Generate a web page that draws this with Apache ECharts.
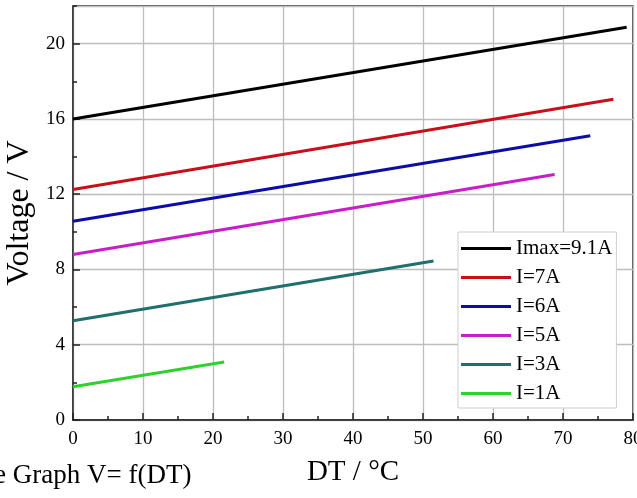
<!DOCTYPE html>
<html>
<head>
<meta charset="utf-8">
<script src="https://cdn.jsdelivr.net/npm/echarts@6/dist/echarts.min.js"></script>
<style>
  html, body { margin: 0; padding: 0; background: #fff; }
  #chart { width: 637px; height: 498px; }
</style>
</head>
<body>
<div id="chart"></div>
<script>
// Voltage vs. temperature difference for several drive currents
const seriesNames = ['Imax=9.1A', 'I=7A', 'I=6A', 'I=5A', 'I=3A', 'I=1A'];
const seriesColors = ['#000000', '#c8101a', '#0c0ca8', '#c81ec8', '#1f6f6f', '#2ed22e'];

// DT (°C) and voltage (V) at the start and end of each curve
const dtImax = [0, 79.1];
const vImax = [16.0, 20.87];
const dtI7 = [0, 77.2];
const vI7 = [12.25, 17.05];
const dtI6 = [0, 73.9];
const vI6 = [10.56, 15.1];
const dtI5 = [0, 68.8];
const vI5 = [8.79, 13.05];
const dtI3 = [0, 51.5];
const vI3 = [5.27, 8.45];
const dtI1 = [0, 21.6];
const vI1 = [1.77, 3.08];

const xTicks = [0, 10, 20, 30, 40, 50, 60, 70, 80];
const yTicks = [0, 4, 8, 12, 16, 20];

const curves = [
  [dtImax, vImax], [dtI7, vI7], [dtI6, vI6], [dtI5, vI5], [dtI3, vI3], [dtI1, vI1]
];

const serif = "'Liberation Serif', 'Times New Roman', serif";

const chart = echarts.init(document.getElementById('chart'), null, { renderer: 'canvas' });

const series = curves.map(function (c, i) {
  return {
    name: seriesNames[i],
    type: 'line',
    showSymbol: false,
    symbol: 'none',
    data: c[0].map(function (x, k) { return [x, c[1][k]]; }),
    lineStyle: { color: seriesColors[i], width: 3 },
    itemStyle: { color: seriesColors[i] },
    z: 3
  };
});

chart.setOption({
  animation: false,
  backgroundColor: '#fff',
  grid: {
    left: 73, right: 4, top: 6, bottom: 78,
    outerBoundsMode: 'none',
    containLabel: false,
    show: true, borderColor: '#222', borderWidth: 1.5, backgroundColor: 'transparent'
  },
  legend: {
    orient: 'vertical',
    left: 458, top: 232,
    data: seriesNames,
    icon: 'rect',
    itemWidth: 50, itemHeight: 3,
    itemGap: 8,
    padding: [6, 4, 4, 3],
    backgroundColor: '#fff',
    borderColor: '#cfcfcf', borderWidth: 1,
    textStyle: { fontFamily: serif, fontSize: 21, color: '#000', lineHeight: 21, padding: [0, 0, 0, 0] }
  },
  xAxis: {
    type: 'value',
    min: xTicks[0], max: xTicks[xTicks.length - 1], interval: 10,
    name: 'DT / °C',
    nameLocation: 'middle',
    nameGap: 38,
    nameTextStyle: { fontFamily: serif, fontSize: 29, color: '#000' },
    axisLine: { show: true, lineStyle: { color: '#222', width: 1.5 } },
    axisTick: { show: true, inside: true, length: 7, lineStyle: { color: '#222', width: 1.5 } },
    minorTick: { show: true, splitNumber: 2, length: 4, lineStyle: { color: '#222', width: 1.5 } },
    axisLabel: { fontFamily: serif, fontSize: 19, color: '#000', margin: 10 },
    splitLine: { show: true, lineStyle: { color: '#bdbdbd', width: 1.3 } }
  },
  yAxis: [
    {
      type: 'value',
      min: 0, max: 22, interval: 4,
      name: 'Voltage / V',
      nameLocation: 'middle',
      nameGap: 35,
      nameTextStyle: { fontFamily: serif, fontSize: 32, color: '#000' },
      axisLine: { show: true, lineStyle: { color: '#333', width: 1.5 } },
      axisTick: { show: true, inside: true, length: 7, lineStyle: { color: '#222', width: 1.5 } },
      axisLabel: {
        fontFamily: serif, fontSize: 19, color: '#000', margin: 8,
        showMaxLabel: false,
        formatter: function (v) { return yTicks.indexOf(v) >= 0 ? String(v) : ''; }
      },
      splitLine: { show: true, lineStyle: { color: '#bdbdbd', width: 1.3 } }
    },
    {
      // short ticks at every 2 V
      type: 'value',
      position: 'left',
      min: 0, max: 22, interval: 2,
      axisLine: { show: false },
      axisTick: { show: true, inside: true, length: 4, lineStyle: { color: '#222', width: 1.5 } },
      axisLabel: { show: false },
      splitLine: { show: false }
    }
  ],
  graphic: [
    {
      type: 'text',
      left: -6,
      top: 462,
      style: {
        text: 'e Graph V= f(DT)',
        font: '27px ' + serif,
        fill: '#000'
      }
    }
  ],
  series: series
});
</script>
</body>
</html>
